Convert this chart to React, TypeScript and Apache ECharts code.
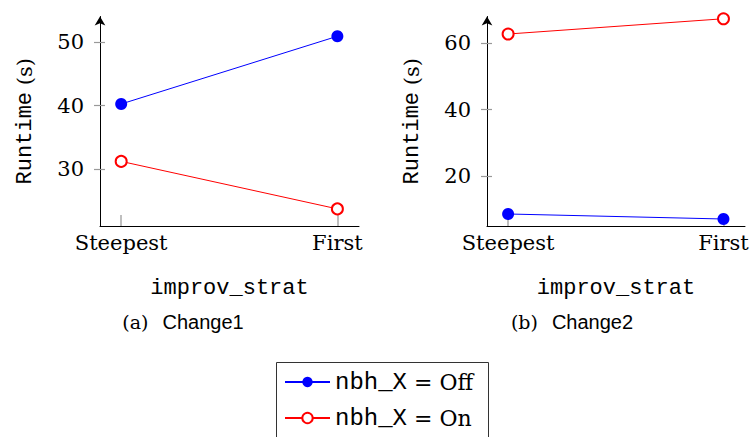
import React, { useEffect, useRef } from "react";
import * as echarts from "echarts";

const categories = ["Steepest", "First"];
const panelLetters = ["(a)", "(b)"];
const panelTitles = ["Change1", "Change2"];
const legendVar = "nbh_X";
const legendStates = ["Off", "On"];
const change1Off = [40.26, 50.95];
const change1On = [31.2, 23.7];
const change2Off = [8.55, 7.04];
const change2On = [62.8, 67.4];
const change1Ticks = [30, 40, 50];
const change2Ticks = [20, 40, 60];
const xAxisName = "improv_strat";
const yAxisWord = "Runtime";
const yAxisUnit = "(s)";

const SERIF = "DejaVu Serif";
const MONO = "Liberation Mono";
const SANS = "Liberation Sans";
const BLUE = "#0000ff";
const RED = "#ff0000";

const seriesNames = legendStates.map((s) => `${legendVar} = ${s}`);

export default function App() {
  const ref = useRef<HTMLDivElement>(null);
  useEffect(() => {
    if (!ref.current) return;
    const chart = echarts.init(ref.current, undefined, { renderer: "svg" });

    const grids = [
      { left: 100, top: 16.5, width: 259, height: 209.5 },
      { left: 487, top: 16.5, width: 258, height: 209.5 },
    ];
    const yRanges = [
      [21.0, 54.07],
      [4.93, 68.08],
    ];
    const yTicks = [change1Ticks, change2Ticks];

    const xAxes = grids.map((_, g) => ({
      type: "value",
      gridIndex: g,
      min: -0.098,
      max: 1.1,
      axisLine: { show: true, onZero: false, lineStyle: { color: "#000", width: 1 } },
      axisTick: {
        show: true,
        inside: true,
        length: 11,
        customValues: [0, 1],
        lineStyle: { color: "#aaaaaa", width: 1.5 },
      },
      axisLabel: {
        show: true,
        customValues: [0, 1],
        formatter: (v: number) => categories[Math.round(v)] ?? "",
        margin: 6,
        fontFamily: SERIF,
        fontSize: 21,
        color: "#000",
      },
      splitLine: { show: false },
      name: xAxisName,
      nameLocation: "middle",
      nameGap: 51,
      nameTextStyle: { fontFamily: MONO, fontSize: 22, color: "#000" },
    }));

    const yAxes: any[] = [];
    grids.forEach((_, g) => {
      yAxes.push({
        type: "value",
        gridIndex: g,
        position: "left",
        min: yRanges[g][0],
        max: yRanges[g][1],
        axisLine: {
          show: true,
          onZero: false,
          symbol: ["none", "arrow"],
          symbolSize: [8, 9],
          lineStyle: { color: "#000", width: 1 },
        },
        axisTick: {
          show: true,
          inside: false,
          length: 6,
          customValues: yTicks[g],
          lineStyle: { color: "#999999", width: 1.2 },
        },
        axisLabel: {
          show: true,
          customValues: yTicks[g],
          margin: 16,
          fontFamily: SERIF,
          fontSize: 21,
          color: "#000",
        },
        splitLine: { show: false },
        name: `{m|${yAxisWord}}{s| ${yAxisUnit}}`,
        nameLocation: "middle",
        nameGap: 64,
        nameTextStyle: {
          color: "#000",
          rich: {
            m: { fontFamily: MONO, fontSize: 22, color: "#000" },
            s: { fontFamily: SERIF, fontSize: 21, color: "#000" },
          },
        },
      });
      yAxes.push({
        type: "value",
        gridIndex: g,
        position: "left",
        min: yRanges[g][0],
        max: yRanges[g][1],
        axisLine: { show: false, onZero: false },
        axisTick: {
          show: true,
          inside: true,
          length: 5,
          customValues: yTicks[g],
          lineStyle: { color: "#999999", width: 1.2 },
        },
        axisLabel: { show: false },
        splitLine: { show: false },
      });
    });

    const offStyle = (xi: number, yi: number, data: number[]) => ({
      type: "line",
      name: seriesNames[0],
      xAxisIndex: xi,
      yAxisIndex: yi,
      data: data.map((v, i) => [i, v]),
      symbol: "circle",
      symbolSize: 12,
      color: BLUE,
      lineStyle: { color: BLUE, width: 1 },
      itemStyle: { color: BLUE },
      z: 3,
    });
    const onStyle = (xi: number, yi: number, data: number[]) => ({
      type: "line",
      name: seriesNames[1],
      xAxisIndex: xi,
      yAxisIndex: yi,
      data: data.map((v, i) => [i, v]),
      symbol: "emptyCircle",
      symbolSize: 11,
      color: RED,
      lineStyle: { color: RED, width: 1 },
      itemStyle: { color: RED, borderWidth: 1 },
      z: 3,
    });

    const captionRich = {
      l: { fontFamily: SERIF, fontSize: 19, fill: "#000", color: "#000" },
      g: { width: 14, fontSize: 19 },
      t: { fontFamily: SANS, fontSize: 20, fill: "#000", color: "#000" },
    };

    chart.setOption({
      animation: false,
      backgroundColor: "#ffffff",
      grid: grids.map((g) => ({ ...g, containLabel: false })),
      xAxis: xAxes,
      yAxis: yAxes,
      legend: {
        data: seriesNames,
        orient: "vertical",
        left: 284,
        top: 370,
        padding: 0,
        itemWidth: 45,
        itemHeight: 13,
        itemGap: 12,
        selectedMode: false,
        formatter: (name: string) => {
          const idx = seriesNames.indexOf(name);
          return `{m|${legendVar}}{s| = ${legendStates[idx]}}`;
        },
        textStyle: {
          color: "#000",
          rich: {
            m: { fontFamily: MONO, fontSize: 24, color: "#000" },
            s: { fontFamily: SERIF, fontSize: 22, color: "#000" },
          },
        },
      },
      graphic: [
        {
          type: "rect",
          shape: { x: 276.5, y: 362.5, width: 212, height: 90 },
          style: { fill: "none", stroke: "#333", lineWidth: 1 },
          silent: true,
          z: 0,
        },
        {
          type: "text",
          x: 183,
          y: 322,
          style: {
            text: `{l|${panelLetters[0]}}{g| }{t|${panelTitles[0]}}`,
            rich: captionRich,
            align: "center",
            verticalAlign: "middle",
          },
        },
        {
          type: "text",
          x: 572,
          y: 322,
          style: {
            text: `{l|${panelLetters[1]}}{g| }{t|${panelTitles[1]}}`,
            rich: captionRich,
            align: "center",
            verticalAlign: "middle",
          },
        },
      ],
      series: [
        offStyle(0, 0, change1Off),
        onStyle(0, 0, change1On),
        offStyle(1, 2, change2Off),
        onStyle(1, 2, change2On),
      ],
    });
    return () => chart.dispose();
  }, []);

  return (
    <div
      ref={ref}
      style={{ position: "fixed", left: 0, top: 0, width: 754, height: 437, background: "#fff" }}
    />
  );
}
